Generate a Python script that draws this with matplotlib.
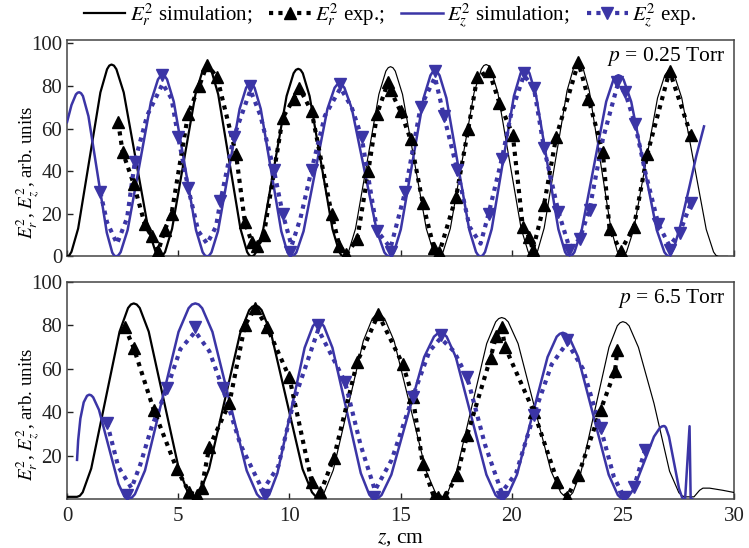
import numpy as np
import matplotlib
matplotlib.use("Agg")
import matplotlib.pyplot as plt
from matplotlib.lines import Line2D

plt.rcParams['font.family'] = 'serif'
plt.rcParams['font.serif'] = ['Liberation Serif', 'DejaVu Serif']
plt.rcParams['mathtext.fontset'] = 'stix'

BLUE = '#3b35a6'

# ---------------- top panel (p = 0.25 Torr) ----------------
top_er_sim_x = [0, 0.1, 0.2, 0.5, 1.0, 1.5, 1.8, 1.9,
                2.0, 2.11, 2.22, 2.55, 3.1, 3.65, 3.98, 4.09,
                4.2, 4.305, 4.41, 4.725, 5.25, 5.775, 6.09, 6.195,
                6.3, 6.4, 6.5, 6.8, 7.3, 7.8, 8.1, 8.2,
                8.3, 8.405, 8.51, 8.825, 9.35, 9.875, 10.19, 10.295,
                10.4, 10.5025, 10.605, 10.91, 11.425, 11.94, 12.245, 12.3475,
                12.45, 12.555, 12.66, 12.975, 13.5, 14.025, 14.34, 14.445,
                14.55, 14.6575, 14.765, 15.09, 15.625, 16.16, 16.485, 16.5925,
                16.7, 16.8075, 16.915, 17.24, 17.775, 18.31, 18.635, 18.7425,
                18.85, 18.955, 19.06, 19.375, 19.9, 20.425, 20.74, 20.845,
                20.95, 21.0525, 21.155, 21.46, 21.975, 22.49, 22.795, 22.8975,
                23.0, 23.0975, 23.195, 23.49, 23.975, 24.46, 24.755, 24.8525,
                24.95, 25.0575, 25.165, 25.49, 26.025, 26.56, 26.885, 26.9925,
                27.1, 27.21, 27.32, 27.65, 28.2, 28.75, 29.08, 29.19,
                29.3, 29.7]
top_er_sim_y = [0, 0.5, 2.2, 13.1, 45, 76.9, 87.8, 89.5,
                90, 89.5, 87.8, 76.9, 45, 13.1, 2.2, 0.5,
                0, 0.5, 2.1, 13.0, 44.5, 76.0, 86.9, 88.5,
                89, 88.5, 86.9, 76.0, 44.5, 13.0, 2.1, 0.5,
                0, 0.5, 2.1, 12.8, 44, 75.2, 85.9, 87.5,
                88, 87.5, 85.9, 75.2, 44, 12.8, 2.1, 0.5,
                0, 0.5, 2.1, 13.0, 44.5, 76.0, 86.9, 88.5,
                89, 88.5, 86.9, 76.0, 44.5, 13.0, 2.1, 0.5,
                0, 0.5, 2.2, 13.1, 45, 76.9, 87.8, 89.5,
                90, 89.5, 87.8, 76.9, 45, 13.1, 2.2, 0.5,
                0, 0.5, 2.2, 13.3, 45.5, 77.7, 88.8, 90.5,
                91, 90.5, 88.8, 77.7, 45.5, 13.3, 2.2, 0.5,
                0, 0.5, 2.1, 12.7, 43.5, 74.3, 84.9, 86.5,
                87, 86.5, 84.9, 74.3, 43.5, 12.7, 2.1, 0.5,
                0, 0]

top_ez_sim_x = [0, 0.2, 0.4, 0.48,
                0.55, 0.6325, 0.715, 0.9625, 1.375, 1.7875, 2.035, 2.1175,
                2.2, 2.305, 2.41, 2.725, 3.25, 3.775, 4.09, 4.195,
                4.3, 4.4, 4.5, 4.8, 5.3, 5.8, 6.1, 6.2,
                6.3, 6.3975, 6.495, 6.7875, 7.275, 7.7625, 8.055, 8.1525,
                8.25, 8.3425, 8.435, 8.7125, 9.175, 9.6375, 9.915, 10.0075,
                10.1, 10.2075, 10.315, 10.6375, 11.175, 11.7125, 12.035, 12.1425,
                12.25, 12.3625, 12.475, 12.8125, 13.375, 13.9375, 14.275, 14.3875,
                14.5, 14.6025, 14.705, 15.0125, 15.525, 16.0375, 16.345, 16.4475,
                16.55, 16.6525, 16.755, 17.0625, 17.575, 18.0875, 18.395, 18.4975,
                18.6, 18.7, 18.8, 19.1, 19.6, 20.1, 20.4, 20.5,
                20.6, 20.7, 20.8, 21.1, 21.6, 22.1, 22.4, 22.5,
                22.6, 22.71, 22.82, 23.15, 23.7, 24.25, 24.58, 24.69,
                24.8, 24.915, 25.03, 25.375, 25.95, 26.525, 26.87, 26.985,
                27.1, 27.3, 27.6, 28.0, 28.3, 28.65]
top_ez_sim_y = [63, 71, 76, 76.8,
                77, 76.5, 75.2, 65.8, 38.5, 11.2, 1.8, 0.5,
                0, 0.5, 2.0, 12.4, 42.5, 72.6, 83.0, 84.5,
                85, 84.5, 83.0, 72.6, 42.5, 12.4, 2.0, 0.5,
                0, 0.5, 1.9, 11.8, 40.5, 69.2, 79.1, 80.5,
                81, 80.5, 79.1, 69.2, 40.5, 11.8, 1.9, 0.5,
                0, 0.5, 1.9, 11.8, 40.5, 69.2, 79.1, 80.5,
                81, 80.5, 79.1, 69.2, 40.5, 11.8, 1.9, 0.5,
                0, 0.5, 2.1, 12.7, 43.5, 74.3, 84.9, 86.5,
                87, 86.5, 84.9, 74.3, 43.5, 12.7, 2.1, 0.5,
                0, 0.5, 2.1, 12.8, 44, 75.2, 85.9, 87.5,
                88, 87.5, 85.9, 75.2, 44, 12.8, 2.1, 0.5,
                0, 0.5, 2.0, 12.4, 42.5, 72.6, 83.0, 84.5,
                85, 84.5, 83.0, 72.6, 42.5, 12.4, 2.0, 0.5,
                0, 4, 15, 33, 47, 61]

top_er_exp_x = [2.3, 2.5, 3.0, 3.5, 3.8, 4.1, 4.4, 4.7, 5.45, 5.95, 6.3, 6.75, 7.6, 8.0,
                8.3, 8.55, 8.85, 9.7, 10.2, 10.45, 11.0, 11.9, 12.25, 12.55, 13.05, 13.55,
                13.95, 14.45, 14.55, 15.0, 15.45, 16.0, 16.5, 16.75, 17.5, 18.05, 18.45,
                18.97, 19.45, 20.05, 20.5, 20.8, 20.95, 21.45, 22.0, 23.0, 23.45, 24.1,
                24.4, 24.9, 25.5, 26.1, 27.1, 28.06]
top_er_exp_y = [63, 49, 34, 15, 9.5, 2.5, 12.5, 20, 67, 80, 90, 84, 48, 16,
                7, 4.7, 10, 65, 74, 79, 68, 20, 5, 1, 8, 40,
                67, 82, 78, 68, 55, 25, 4, 2, 28, 60, 84,
                87, 72, 57, 14, 9, 3, 24, 56, 91, 74, 49,
                13, 2.5, 14, 48, 87, 57]

top_ez_exp_x = [1.5, 3.05, 4.28, 5.0, 5.45, 6.9, 7.5, 8.25, 9.3, 9.7, 10.05, 11.0, 12.3,
                13.25, 13.95, 14.55, 15.2, 15.9, 16.55, 16.95, 17.55, 18.96, 19.55, 20.55,
                21.0, 21.45, 22.1, 22.6, 23.05, 23.5, 24.75, 25.1, 25.55, 26.6, 27.1,
                27.55, 28.06]
top_ez_exp_y = [30, 44.5, 85, 56, 32, 26, 56, 80, 40.7, 20, 2, 40.7, 81,
                56, 12, 2, 30, 70, 87, 66, 40.6, 20, 45.5, 86,
                79, 51, 21, 3, 8, 22, 82, 77, 62, 15, 3,
                11, 25]

top_ez_dot_x = [1.5, 1.8, 2.25, 2.7, 3.05, 3.6, 4.3, 4.7, 5.0, 5.45, 5.9, 6.3, 6.7, 6.9,
                7.5, 8.25, 8.7, 9.3, 9.7, 10.1, 10.5, 11.0, 11.6, 12.3, 12.8, 13.25, 13.95,
                14.55, 15.2, 15.9, 16.55, 16.95, 17.55, 18.1, 18.6, 18.96, 19.55, 20.0,
                20.55, 21.0, 21.45, 22.1, 22.6, 23.05, 23.5, 24.1, 24.75, 25.1, 25.55,
                26.0, 26.6, 27.1, 27.55, 28.06]
top_ez_dot_y = [30, 16, 6, 18, 44.5, 66, 81, 74, 56, 32, 12, 6, 14, 26,
                56, 78, 66, 40.7, 20, 5, 18, 40.7, 66, 79, 70, 56, 12,
                4, 30, 70, 84, 66, 40.6, 14, 6, 20, 45.5, 68,
                85, 79, 51, 21, 4, 8, 22, 55, 80, 77, 62,
                40, 15, 5, 11, 25]

# ---------------- bottom panel (p = 6.5 Torr) ----------------
bot_er_sim_x = [0,
                0.45, 0.5775, 0.705, 1.0875, 1.725, 2.3625, 2.745, 2.8725,
                3.0, 3.135, 3.27, 3.675, 4.35, 5.025, 5.43, 5.565,
                5.7, 5.8385, 5.977, 6.3855, 7.085, 7.7845, 8.193, 8.3315,
                8.47, 8.6115, 8.753, 9.1775, 9.885, 10.5925, 11.017, 11.1585,
                11.3, 11.435, 11.57, 11.975, 12.65, 13.325, 13.73, 13.865,
                14.0, 14.1425, 14.285, 14.7125, 15.425, 16.1375, 16.565, 16.7075,
                16.85, 16.985, 17.12, 17.525, 18.2, 18.875, 19.28, 19.415,
                19.55, 19.6975, 19.845, 20.2875, 21.025, 21.7625, 22.205, 22.3525,
                22.5, 22.625, 22.75, 23.125, 23.75, 24.375, 24.75, 24.875,
                25.0, 25.14, 25.28, 25.7, 26.4, 27.1, 27.52, 27.66,
                27.8, 28.2, 28.45, 28.6, 28.9, 29.5, 30.0]
bot_er_sim_y = [1,
                1, 1.5, 3.1, 14, 45.5, 77, 87.9, 89.5,
                90, 89.5, 87.9, 77, 45.5, 14, 3.1, 1.5,
                1, 1.5, 3.1, 13.8, 45, 76.2, 86.9, 88.5,
                89, 88.5, 86.9, 76.2, 45, 13.8, 3.1, 1.5,
                1, 1.5, 3.0, 13.3, 43, 72.7, 83.0, 84.5,
                85, 84.5, 83.0, 72.7, 43, 13.3, 3.0, 1.5,
                1, 1.5, 3.0, 13.0, 42.3, 71.5, 81.5, 83.0,
                83.5, 83.0, 81.5, 71.5, 42.3, 13.0, 3.0, 1.5,
                1, 1.5, 2.9, 12.8, 41.3, 69.8, 79.7, 81.1,
                81.6, 81.1, 79.7, 69.8, 44, 12.8, 2.9, 1.5,
                1, 1, 4, 5, 5, 4, 3]

bot_ez_sim_x = [0.45, 0.5, 0.6, 0.75, 0.9,
                1.0, 1.0875, 1.175, 1.4375, 1.875, 2.3125, 2.575, 2.6625,
                2.75, 2.901, 3.052, 3.505, 4.26, 5.015, 5.468, 5.619,
                5.77, 5.924, 6.078, 6.54, 7.31, 8.08, 8.542, 8.696,
                8.85, 8.9725, 9.095, 9.4625, 10.075, 10.6875, 11.055, 11.1775,
                11.3, 11.4275, 11.555, 11.9375, 12.575, 13.2125, 13.595, 13.7225,
                13.85, 13.9975, 14.145, 14.5875, 15.325, 16.0625, 16.505, 16.6525,
                16.8, 16.9375, 17.075, 17.4875, 18.175, 18.8625, 19.275, 19.4125,
                19.55, 19.6875, 19.825, 20.2375, 20.925, 21.6125, 22.025, 22.1625,
                22.3, 22.4375, 22.575, 22.9875, 23.675, 24.3625, 24.775, 24.9125,
                25.05, 25.14, 25.23, 25.5, 25.95, 26.4, 26.67, 26.76,
                26.85, 26.895, 26.94, 27.075, 27.3, 27.525, 27.66, 27.705,
                27.75, 27.8, 28.0, 28.05, 28.12]
bot_ez_sim_y = [18, 27, 37, 44.5, 47.5,
                48, 47.7, 46.8, 41.0, 24, 7.0, 1.2, 0.3,
                0, 0.5, 2.2, 13.1, 45, 76.9, 87.8, 89.5,
                90, 89.5, 87.8, 76.9, 45, 13.1, 2.2, 0.5,
                0, 0.5, 2.0, 11.9, 40.8, 69.6, 79.5, 81.0,
                81.5, 81.0, 79.5, 69.6, 40.8, 11.9, 2.0, 0.5,
                0, 0.5, 1.8, 11.2, 38.3, 65.3, 74.7, 76.0,
                76.5, 76.0, 74.7, 65.3, 38.3, 11.2, 1.8, 0.5,
                0, 0.5, 1.8, 11.2, 38.3, 65.3, 74.7, 76.0,
                76.5, 76.0, 74.7, 65.3, 38.3, 11.2, 1.8, 0.5,
                0, 0.2, 0.8, 4.9, 16.8, 28.7, 32.8, 33.4,
                33.6, 33.4, 32.8, 28.7, 16.8, 4.9, 0.8, 0.2,
                0, 0, 33.5, 0, 0]

bot_er_exp_x = [2.6, 3.0, 3.9, 4.93, 5.5, 5.85, 6.05, 6.4, 7.3, 8.0, 8.47, 9.0, 10.0, 11.0,
                11.4, 12.0, 13.05, 14.0, 15.1, 15.55, 16.0, 16.5, 16.7, 17.0, 17.55, 18.0,
                19.05, 19.3, 19.55, 19.7, 21.0, 22.06, 22.5, 23.0, 24.0, 24.65, 24.75]
bot_er_exp_y = [79, 69.5, 41, 14, 3, 2, 5, 24, 44, 80, 88, 79, 56, 8,
                3, 19, 63, 85, 62, 47, 16, 1, 1, 1, 11, 29.5,
                65, 75, 79, 70, 40, 8, 1, 11, 41, 59, 68.5]

bot_ez_exp_x = [1.8, 2.7, 4.5, 5.77, 7.0, 8.9, 11.3, 12.5, 13.8, 15.55, 16.8, 18.0, 19.55,
                21.0, 22.5, 24.0, 25.05, 25.5, 26.0]
bot_ez_exp_y = [35, 2, 51, 79, 51, 2, 80, 54, 1, 47, 75.6, 56, 1,
                38.7, 73, 32.7, 1, 5.5, 22.6]

bot_ez_dot_x = [1.8, 2.3, 2.9, 3.3, 3.8, 4.5, 5.1, 5.77, 6.4, 7.0, 7.8, 8.8, 9.5, 10.2,
                11.3, 12.5, 13.2, 13.85, 14.6, 15.55, 16.3, 16.8, 17.4, 18.0, 18.8, 19.55,
                20.2, 21.0, 21.8, 22.5, 23.2, 24.0, 24.6, 25.05, 25.5, 26.0]
bot_ez_dot_y = [35, 15, 5, 16, 33, 51, 69, 77, 68, 51, 25, 4, 15, 45,
                78, 54, 25, 4, 18, 47, 68, 74, 68, 56, 25, 3,
                12, 38.7, 62, 72, 60, 32.7, 10, 1, 5.5, 22.6]

x_ticks = [0, 5, 10, 15, 20, 25, 30]
top_y_ticks = [0, 20, 40, 60, 80, 100]
bot_y_ticks = [20, 40, 60, 80, 100]

DOT = (0, (1.0, 1.25))
MS = 8

fig = plt.figure(figsize=(7.49, 5.48), dpi=100)
ax1 = fig.add_axes([0.0895, 0.532, 0.8905, 0.395])
ax2 = fig.add_axes([0.0895, 0.0894, 0.8905, 0.3966])


def draw(ax, er_x, er_y, er_split, ez_x, ez_y, erx, ery, ezx, ezy, ezdx, ezdy):
    er_x = np.asarray(er_x); er_y = np.asarray(er_y)
    m1 = er_x <= er_split
    m2 = er_x >= er_split
    ax.plot(er_x[m1], er_y[m1], color='black', lw=1.6, zorder=3)
    ax.plot(er_x[m2], er_y[m2], color='black', lw=0.85, zorder=3)
    ax.plot(ez_x, ez_y, color=BLUE, lw=1.8, zorder=3)
    ax.plot(erx, ery, color='black', ls=DOT, lw=3.0, dash_capstyle='butt', zorder=4)
    ax.plot(erx, ery, ls='none', marker='^', ms=MS, color='black', zorder=5)
    ax.plot(ezdx, ezdy, color=BLUE, ls=DOT, lw=3.0, dash_capstyle='butt', zorder=4)
    ax.plot(ezx, ezy, ls='none', marker='v', ms=MS, color=BLUE, zorder=5)


draw(ax1, top_er_sim_x, top_er_sim_y, 12.45, top_ez_sim_x, top_ez_sim_y,
     top_er_exp_x, top_er_exp_y, top_ez_exp_x, top_ez_exp_y, top_ez_dot_x, top_ez_dot_y)
draw(ax2, bot_er_sim_x, bot_er_sim_y, 11.3, bot_ez_sim_x, bot_ez_sim_y,
     bot_er_exp_x, bot_er_exp_y, bot_ez_exp_x, bot_ez_exp_y, bot_ez_dot_x, bot_ez_dot_y)

for ax in (ax1, ax2):
    ax.set_xlim(0, 30)
    ax.set_xticks(x_ticks)
    ax.tick_params(direction='in', length=4, width=1, labelsize=15, colors='#222222')
    ax.tick_params(axis='x', pad=6)
    for s in ax.spines.values():
        s.set_linewidth(1.1)
        s.set_color('#444444')
    ax.set_ylabel(r'$E_r^2$, $E_z^2$, arb. units', fontsize=13.7)
    ax.yaxis.set_label_coords(-0.037, 0.39)

ax1.set_ylim(0, 101.5)
ax1.set_yticks(top_y_ticks)
ax1.tick_params(labelbottom=False)
ax2.set_ylim(0, 100)
ax2.set_yticks(bot_y_ticks)
ax2.set_xlabel(r'$z$, cm', fontsize=15.5, labelpad=2)

ax1.text(0.987, 0.975, r'$p$ = 0.25 Torr', transform=ax1.transAxes, ha='right', va='top', fontsize=15.5)
ax2.text(0.987, 0.975, r'$p$ = 6.5 Torr', transform=ax2.transAxes, ha='right', va='top', fontsize=15.5)

handles = [
    Line2D([], [], color='black', lw=1.6),
    Line2D([], [], color='black', ls=DOT, lw=3.0, dash_capstyle='butt', marker='^', ms=MS),
    Line2D([], [], color=BLUE, lw=1.8),
    Line2D([], [], color=BLUE, ls=DOT, lw=3.0, dash_capstyle='butt', marker='v', ms=MS),
]
labels = [r'$E_r^2$ simulation;', r'$E_r^2$ exp.;', r'$E_z^2$ simulation;', r'$E_z^2$ exp.']
fig.legend(handles, labels, loc='center', bbox_to_anchor=(0.521, 0.972), ncol=4,
           frameon=False, fontsize=15, handlelength=2.0, handletextpad=0.2,
           columnspacing=0.8, numpoints=1, borderpad=0.1)

fig.savefig('out.png', dpi=100)
